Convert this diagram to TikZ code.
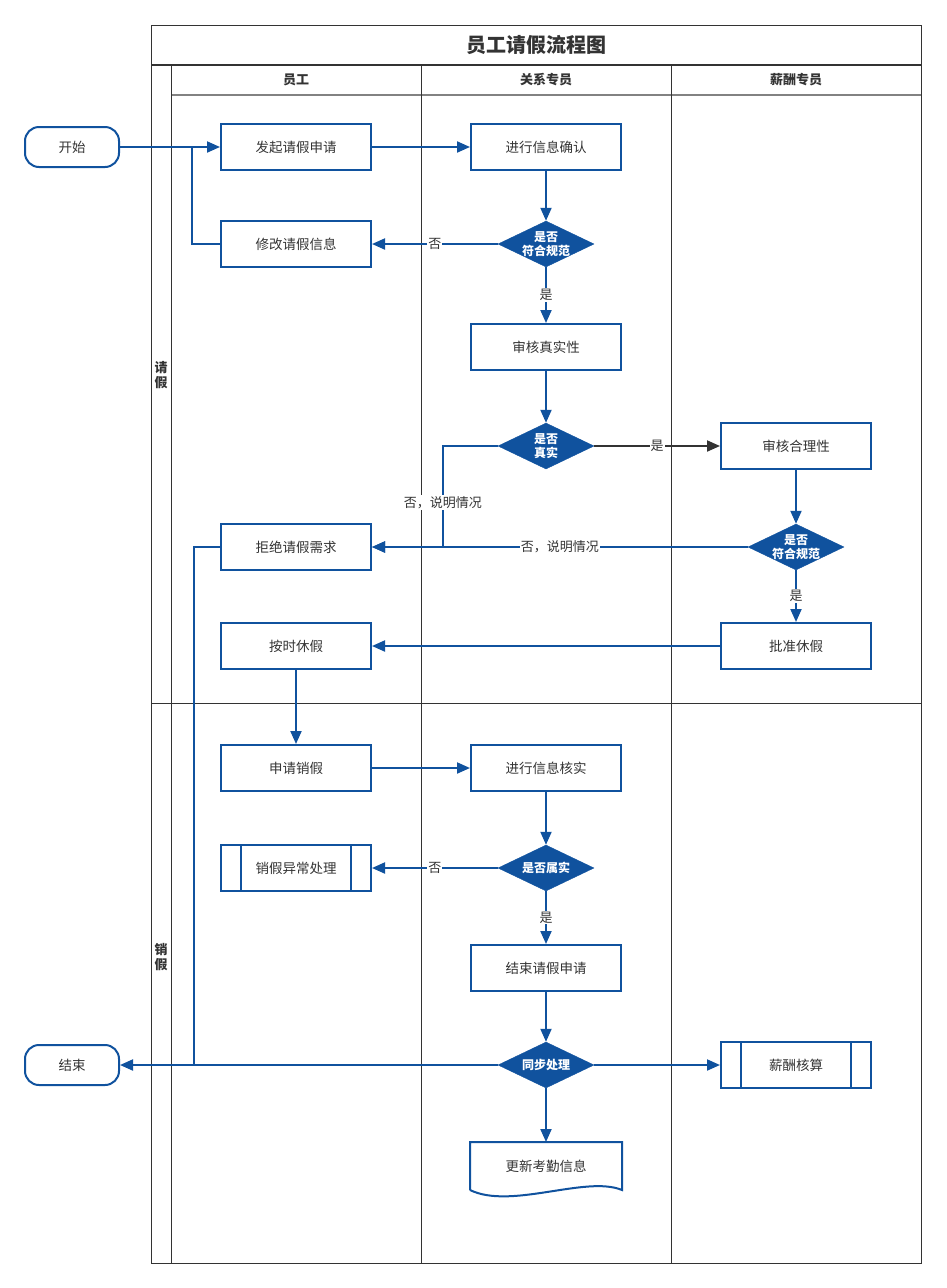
\documentclass[tikz,border=0pt]{standalone}
\usepackage{fontspec}
\setmainfont{Noto Sans CJK SC}
\usetikzlibrary{arrows.meta,positioning,shapes.geometric}
\definecolor{flowblue}{RGB}{16,82,158}
\definecolor{inkgray}{RGB}{51,51,51}
\definecolor{rulegray}{RGB}{130,130,130}
\tikzset{
  basic/.style    = {draw=flowblue, line width=2pt, text=inkgray, align=center,
                     font=\fontsize{13.5}{15}\selectfont},
  proc/.style     = {basic, rectangle, minimum width=150pt, minimum height=46pt},
  term/.style     = {basic, rectangle, rounded corners=14pt, minimum width=94pt,
                     minimum height=40pt},
  predef/.style   = {proc, path picture={
                       \draw[flowblue, line width=2pt]
                         ([xshift=20pt]path picture bounding box.north west) --
                         ([xshift=20pt]path picture bounding box.south west)
                         ([xshift=-20pt]path picture bounding box.north east) --
                         ([xshift=-20pt]path picture bounding box.south east);}},
  docu/.style     = {proc, draw=none},
  decision/.style = {diamond, draw=flowblue, fill=flowblue, text=white, align=center,
                     font=\bfseries\fontsize{12}{14}\selectfont, aspect=2,
                     inner sep=-2pt, minimum width=96pt, minimum height=46pt},
  lane/.style     = {text=inkgray, font=\bfseries\fontsize{13}{15}\selectfont,
                     align=center},
  flow/.style     = {draw=flowblue, line width=2pt, -{Triangle[length=13pt,width=11pt]}},
  line/.style     = {draw=flowblue, line width=2pt},
  lbl/.style      = {fill=white, text=inkgray, inner sep=1pt,
                     font=\fontsize{13}{15}\selectfont}
}

\begin{document}
\begin{tikzpicture}[x=1pt, y=-1pt]
\useasboundingbox (0,0) rectangle (946,1288);

% swimlane frame
\draw[inkgray, line width=1pt] (151,25) rectangle (921,1263);
\draw[inkgray, line width=1.2pt] (151,65) -- (921,65);
\draw[rulegray, line width=2pt] (171,95) -- (921,95);
\draw[inkgray, line width=0.8pt] (151,703) -- (921,703);
\foreach \x in {171,421,671}
  \draw[inkgray, line width=0.8pt] (\x,65) -- (\x,1263);

\node[lane, font=\bfseries\fontsize{20}{24}\selectfont] (title) at (536,45) {员工请假流程图};
\node[lane] (h1) at (296,80) {员工};
\node[lane] (h2) at (546,80) {关系专员};
\node[lane] (h3) at (796,80) {薪酬专员};
\node[lane] (p1) at (161,375) {请\\假};
\node[lane] (p2) at (161,957) {销\\假};

% leave request
\node[term] (start) at (72,147) {开始};
\node[proc] (apply) at (296,147) {发起请假申请};
\node[proc] (confirm) at (546,147) {进行信息确认};
\node[decision] (d1) at (546,244) {是否\\符合规范};
\node[proc] (modify) at (296,244) {修改请假信息};
\node[proc] (verify) at (546,347) {审核真实性};
\node[decision] (d2) at (546,446) {是否\\真实};
\node[proc] (reason) at (796,446) {审核合理性};
\node[decision] (d3) at (796,547) {是否\\符合规范};
\node[proc] (reject) at (296,547) {拒绝请假需求};
\node[proc] (approve) at (796,646) {批准休假};
\node[proc] (rest) at (296,646) {按时休假};

% leave cancel
\node[proc] (cancel) at (296,768) {申请销假};
\node[proc] (check) at (546,768) {进行信息核实};
\node[decision] (d4) at (546,868) {是否属实};
\node[predef] (abnormal) at (296,868) {销假异常处理};
\node[proc] (finish) at (546,968) {结束请假申请};
\node[decision] (d5) at (546,1065) {同步处理};
\node[predef] (salary) at (796,1065) {薪酬核算};
\node[docu] (update) at (546,1166) {更新考勤信息};
\node[term] (end) at (72,1065) {结束};

\draw[flowblue, line width=2pt] (update.south west) -- (update.north west)
  -- (update.north east) -- (update.south east)
  .. controls ([shift={(-36,-15)}]update.south east)
  and ([shift={(-111,20)}]update.south east) .. (update.south west);

\coordinate (joinA) at (192,147);
\coordinate (joinB) at (194,1065);

% connectors
\draw[flow] (start) -- (apply);
\draw[line] (modify.west) -| (joinA);
\draw[flow] (apply) -- (confirm);
\draw[flow] (confirm) -- (d1);
\draw[flow] (d1.west) -- node[lbl] {否} (modify.east);
\draw[flow] (d1.south) -- node[lbl] {是} (verify.north);
\draw[flow] (verify) -- (d2);
\draw[flow, draw=inkgray] (d2.east) -- node[lbl] {是} (reason.west);
\draw[flow] (d2.west) -- ++(-55,0) |- node[lbl, pos=0.28] {否，说明情况} (reject.east);
\draw[flow] (reason) -- (d3);
\draw[flow] (d3.west) -- node[lbl] {否，说明情况} (reject.east);
\draw[flow] (d3.south) -- node[lbl] {是} (approve.north);
\draw[flow] (approve) -- (rest);
\draw[line] (reject.west) -| (joinB);
\draw[flow] (rest) -- (cancel);
\draw[flow] (cancel) -- (check);
\draw[flow] (check) -- (d4);
\draw[flow] (d4.west) -- node[lbl] {否} (abnormal.east);
\draw[flow] (d4.south) -- node[lbl] {是} (finish.north);
\draw[flow] (finish) -- (d5);
\draw[flow] (d5.west) -- (end.east);
\draw[flow] (d5.east) -- (salary.west);
\draw[flow] (d5.south) -- (update.north);
\end{tikzpicture}
\end{document}
